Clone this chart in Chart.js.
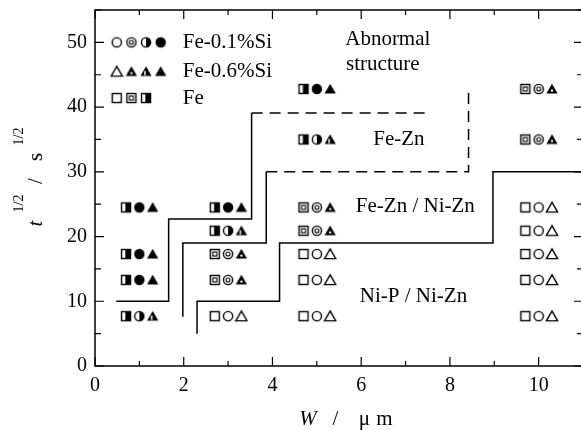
<!DOCTYPE html>
<html>
<head>
<meta charset="utf-8">
<script src="https://cdn.jsdelivr.net/npm/chart.js@4/dist/chart.umd.min.js"></script>
<style>
    html, body { margin: 0; padding: 0; background: #fff; overflow: hidden; }
    #wrap { width: 584px; height: 430px; }
</style>
</head>
<body>
<div id="wrap"><canvas id="chart"></canvas></div>
<script>
// Measured points: W (um) and t^1/2 (s^1/2), one entry per triplet of markers
const W_VALUES = [1, 1, 1, 1, 3, 3, 3, 3, 3, 5, 5, 5, 5, 5, 5, 5, 10, 10, 10, 10, 10, 10, 10];
const T_VALUES = [
    24.5, 17.3, 13.3, 7.7,
    24.5, 20.9, 17.3, 13.3, 7.7,
    42.8, 35.0, 24.5, 20.9, 17.3, 13.3, 7.7,
    42.8, 35.0, 24.5, 20.9, 17.3, 13.3, 7.7
];

// Structure codes: 0 open, 1 double, 2 half, 3 filled
const FE_STATE    = [2, 2, 2, 2, 2, 2, 1, 1, 0, 2, 2, 1, 1, 0, 0, 0, 1, 1, 0, 0, 0, 0, 0];
const SI01_STATE  = [3, 3, 3, 2, 3, 2, 1, 1, 0, 3, 2, 1, 1, 0, 0, 0, 1, 1, 0, 0, 0, 0, 0];
const SI06_STATE  = [3, 3, 3, 2, 3, 2, 1, 1, 0, 3, 2, 1, 1, 0, 0, 0, 1, 1, 0, 0, 0, 0, 0];

// Region boundaries
const LINE_A_W      = [0.48, 1.66, 1.66, 3.53, 3.53];
const LINE_A_T      = [10, 10, 22.7, 22.7, 39.1];
const LINE_A_DASH_W = [3.53, 7.5];
const LINE_A_DASH_T = [39.1, 39.1];
const LINE_B_W      = [1.98, 1.98, 3.86, 3.86];
const LINE_B_T      = [7.6, 19, 19, 30];
const LINE_B_DASH_W = [3.86, 8.42, 8.42];
const LINE_B_DASH_T = [30, 30, 43.1];
const LINE_C_W      = [2.30, 2.30, 4.16, 4.16, 8.97, 8.97, 11];
const LINE_C_T      = [5.0, 10, 10, 19, 19, 30, 30];

const LEGEND_LABELS = ["Fe-0.1%Si", "Fe-0.6%Si", "Fe"];
const REGION_LABELS = ["Abnormal", "structure", "Fe-Zn", "Fe-Zn / Ni-Zn", "Ni-P / Ni-Zn"];
const X_TICKS = [0, 2, 4, 6, 8, 10];
const Y_TICKS = [0, 10, 20, 30, 40, 50];

// Layout (data units)
const MARK_OFFSET   = 0.3;
const LEGEND_ROWS_T = [50, 45.5, 41.4];
const LEGEND_SYM_W  = [0.49, 0.82, 1.15, 1.48];
const LEGEND_TEXT_W = 1.98;
const REGION_POS    = [[5.64, 50.4, "left"], [5.66, 46.6, "left"], [6.85, 35, "center"], [7.22, 24.6, "center"], [7.18, 10.7, "center"]];

const SERIF = "'Liberation Serif', 'Times New Roman', serif";
Chart.defaults.font.family = SERIF;
Chart.defaults.color = "#000";

/**
 * Creates a small canvas used as point style.
 */
function glyph(draw)
{
    const c = document.createElement("canvas");
    c.width = 14;
    c.height = 14;
    const g = c.getContext("2d");
    g.strokeStyle = "#000";
    g.fillStyle = "#000";
    g.lineWidth = 1.4;
    draw(g);
    return c;
}

function circlePath(g, r) { g.beginPath(); g.arc(7, 7, r, 0, Math.PI * 2); }
function trianglePath(g)
{
    g.beginPath();
    g.moveTo(7, 1.8);
    g.lineTo(12.6, 11.6);
    g.lineTo(1.4, 11.6);
    g.closePath();
}

const CIRCLES = [
    glyph(g => { circlePath(g, 4.6); g.stroke(); }),
    glyph(g => { circlePath(g, 4.6); g.stroke(); g.lineWidth = 1.1; circlePath(g, 2); g.stroke(); }),
    glyph(g => {
        circlePath(g, 4.6); g.stroke();
        g.beginPath(); g.arc(7, 7, 4.6, -Math.PI / 2, Math.PI / 2); g.closePath(); g.fill();
    }),
    glyph(g => { circlePath(g, 5.2); g.fill(); })
];
const SQUARES = [
    glyph(g => { g.strokeRect(2.5, 2.5, 9, 9); }),
    glyph(g => { g.strokeRect(2.5, 2.5, 9, 9); g.lineWidth = 1.1; g.strokeRect(5, 5, 4, 4); }),
    glyph(g => { g.strokeRect(2.5, 2.5, 9, 9); g.fillRect(6.3, 2.5, 5.2, 9); })
];
const TRIANGLES = [
    glyph(g => { trianglePath(g); g.stroke(); }),
    glyph(g => {
        trianglePath(g); g.fill();
        g.fillStyle = "#fff"; g.beginPath(); g.arc(7, 8.6, 1.2, 0, Math.PI * 2); g.fill();
    }),
    glyph(g => { trianglePath(g); g.fill(); g.fillStyle = "#fff"; g.fillRect(5.2, 6.5, 1.5, 4.2); }),
    glyph(g => { trianglePath(g); g.fill(); })
];

function toPoints(ws, ts, dx = 0)
{
    return ws.map((w, i) => ({ x: w + dx, y: ts[i] }));
}

function markerSet(points, styles)
{
    return {
        type: "scatter",
        data: points,
        pointStyle: styles,
        pointRadius: 6,
        showLine: false,
        order: 0
    };
}

function lineSet(ws, ts, dashed)
{
    return {
        type: "line",
        data: toPoints(ws, ts),
        borderColor: "#000",
        borderWidth: 1.5,
        borderDash: dashed ? [11, 7] : [],
        pointRadius: 0,
        fill: false,
        tension: 0,
        order: 1
    };
}

// Legend markers
const legendPoints = [];
const legendStyles = [];
[CIRCLES, TRIANGLES, SQUARES].forEach((set, row) => {
    set.forEach((s, i) => {
        legendPoints.push({ x: LEGEND_SYM_W[i], y: LEGEND_ROWS_T[row] });
        legendStyles.push(s);
    });
});

const datasets = [
    markerSet(toPoints(W_VALUES, T_VALUES, -MARK_OFFSET), FE_STATE.map(s => SQUARES[s])),
    markerSet(toPoints(W_VALUES, T_VALUES), SI01_STATE.map(s => CIRCLES[s])),
    markerSet(toPoints(W_VALUES, T_VALUES, MARK_OFFSET), SI06_STATE.map(s => TRIANGLES[s])),
    markerSet(legendPoints, legendStyles),
    lineSet(LINE_A_W, LINE_A_T, false),
    lineSet(LINE_A_DASH_W, LINE_A_DASH_T, true),
    lineSet(LINE_B_W, LINE_B_T, false),
    lineSet(LINE_B_DASH_W, LINE_B_DASH_T, true),
    lineSet(LINE_C_W, LINE_C_T, false)
];

/**
 * Frame with inward ticks on all four sides.
 */
const framePlugin = {
    id: "frame",
    afterDatasetsDraw(chart)
    {
        const { ctx, chartArea: a, scales: { x, y } } = chart;
        ctx.save();
        ctx.strokeStyle = "#000";
        ctx.lineWidth = 1.5;
        ctx.strokeRect(a.left, a.top, a.right - a.left, a.bottom - a.top);
        ctx.lineWidth = 1.2;
        ctx.beginPath();
        for (let v = 0; v <= 11; v++) {
            const px = x.getPixelForValue(v);
            const len = v % 2 === 0 ? 9 : 5;
            ctx.moveTo(px, a.bottom); ctx.lineTo(px, a.bottom - len);
            ctx.moveTo(px, a.top); ctx.lineTo(px, a.top + len);
        }
        for (let v = 0; v <= 55; v += 5) {
            const py = y.getPixelForValue(v);
            const len = v % 10 === 0 ? 9 : 6;
            ctx.moveTo(a.left, py); ctx.lineTo(a.left + len, py);
            ctx.moveTo(a.right, py); ctx.lineTo(a.right - len, py);
        }
        ctx.stroke();
        ctx.restore();
    }
};

/**
 * Legend texts, region names and axis titles.
 */
const textPlugin = {
    id: "texts",
    afterDraw(chart)
    {
        const { ctx, chartArea: a, scales: { x, y } } = chart;
        ctx.save();
        ctx.fillStyle = "#000";
        ctx.font = "21px " + SERIF;
        ctx.textBaseline = "middle";

        ctx.textAlign = "left";
        LEGEND_LABELS.forEach((label, i) => {
            ctx.fillText(label, x.getPixelForValue(LEGEND_TEXT_W), y.getPixelForValue(LEGEND_ROWS_T[i]));
        });

        REGION_LABELS.forEach((label, i) => {
            const [w, t, align] = REGION_POS[i];
            ctx.textAlign = align;
            ctx.fillText(label, x.getPixelForValue(w), y.getPixelForValue(t));
        });

        // x title: W / μ m
        const cx = x.getPixelForValue(5.5);
        const by = a.bottom + 59;
        ctx.textBaseline = "alphabetic";
        ctx.textAlign = "center";
        ctx.font = "italic 21px " + SERIF;
        ctx.fillText("W", cx - 31, by);
        ctx.font = "21px " + SERIF;
        ctx.fillText("/", cx - 3.5, by);
        ctx.fillText("\u03bc", cx + 25.5, by);
        ctx.fillText("m", cx + 45.5, by);

        // y title: t^1/2 / s^1/2 (rotated)
        const cy = (a.top + a.bottom) / 2;
        ctx.translate(41.5, cy);
        ctx.rotate(-Math.PI / 2);
        ctx.font = "italic 21px " + SERIF;
        ctx.fillText("t", -35.5, 0);
        ctx.font = "21px " + SERIF;
        ctx.fillText("/", 7, 0);
        ctx.fillText("s", 31, 0);
        ctx.font = "14px " + SERIF;
        ctx.fillText("1/2", -15.5, -18.5);
        ctx.fillText("1/2", 51.5, -18.5);
        ctx.restore();
    }
};

// Drop the label overflow padding so the plot box sits where the frame is
function noPadding(s)
{
    s.paddingTop = 0;
    s.paddingBottom = 0;
    s.paddingLeft = 0;
    s.paddingRight = 0;
}

new Chart(document.getElementById("chart"), {
    type: "scatter",
    data: { datasets },
    options: {
        responsive: true,
        maintainAspectRatio: false,
        animation: false,
        devicePixelRatio: 1,
        layout: { autoPadding: false, padding: { top: 10, right: 1, left: 0, bottom: 0 } },
        plugins: { legend: { display: false }, tooltip: { enabled: false } },
        scales: {
            x: {
                type: "linear",
                min: 0,
                max: 11,
                grid: { display: false, drawTicks: false },
                border: { display: false },
                afterBuildTicks: s => { s.ticks = X_TICKS.map(v => ({ value: v })); },
                ticks: { padding: 8, maxRotation: 0, autoSkip: false, font: { size: 20 } },
                afterFit: s => { s.height = 64; noPadding(s); }
            },
            y: {
                type: "linear",
                min: 0,
                max: 55,
                grid: { display: false, drawTicks: false },
                border: { display: false },
                afterBuildTicks: s => { s.ticks = Y_TICKS.map(v => ({ value: v })); },
                ticks: { padding: 8, autoSkip: false, font: { size: 20 } },
                afterFit: s => { s.width = 95; noPadding(s); }
            }
        }
    },
    plugins: [framePlugin, textPlugin]
});
</script>
</body>
</html>
